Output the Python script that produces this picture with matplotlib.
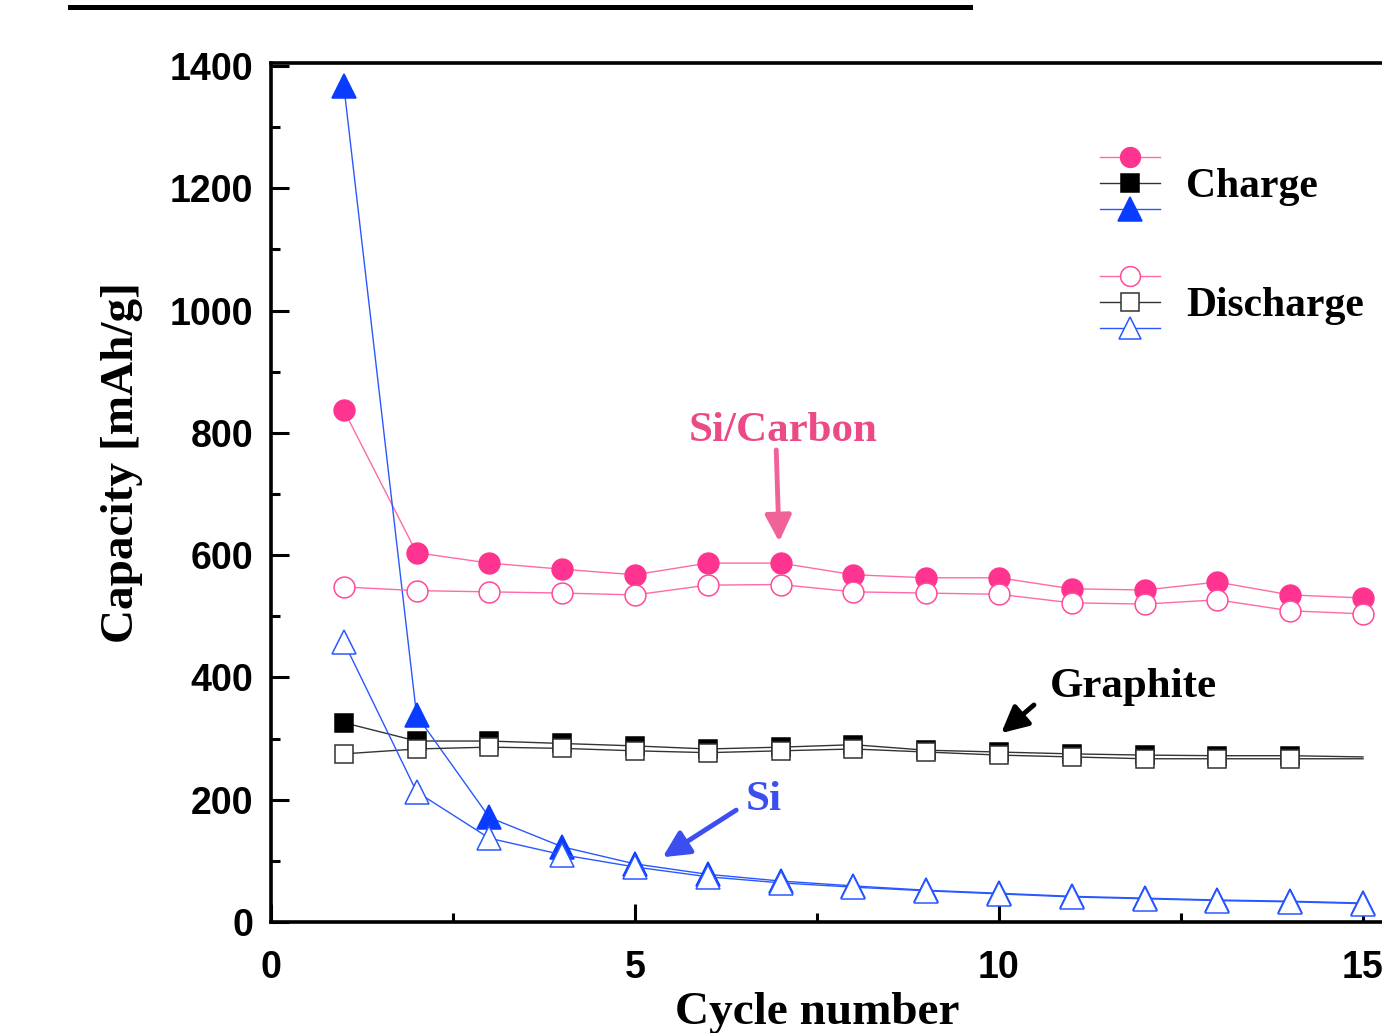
import matplotlib
matplotlib.use("Agg")
import matplotlib.pyplot as plt
from matplotlib.lines import Line2D
from matplotlib.legend_handler import HandlerBase
from matplotlib.ticker import MultipleLocator

# ---------------- data ----------------
cycles = list(range(1, 16))
sic_charge = [837, 604, 587, 577, 568, 587, 587, 568, 563, 563, 545, 543, 556, 535, 530]
sic_discharge = [548, 542, 540, 538, 535, 551, 552, 540, 538, 536, 522, 520, 527, 509, 504]
graphite_charge = [326, 296, 296, 292, 288, 283, 286, 290, 281, 278, 275, 273, 272, 272, 270]
graphite_discharge = [275, 283, 286, 284, 280, 277, 280, 283, 278, 273, 270, 267, 267, 267, 267]
si_charge = [1368, 338, 171, 123, 95, 78, 67, 59, 52, 47, 42, 39, 36, 34, 31]
si_discharge = [458, 213, 137, 110, 90, 74, 64, 57, 51, 46, 41, 38, 35, 33, 30]

xticks = [0, 5, 10, 15]
yticks = [0, 200, 400, 600, 800, 1000, 1200, 1400]

# ---------------- style ----------------
PINK_FILL = "#ff3390"
PINK_LINE = "#ff6aa8"
PINK_EDGE = "#ff4a9a"
BLUE_FILL = "#0a3cff"
BLUE_LINE = "#2a58ff"
BLUE_EDGE = "#2a58ff"
BLACK = "#000000"
GREY_LINE = "#333333"
PINK_TEXT = "#ec4a86"
BLUE_TEXT = "#3d4ef0"

serif = ["Liberation Serif", "DejaVu Serif"]
sans = ["Liberation Sans", "DejaVu Sans"]

fig = plt.figure(figsize=(13.82, 10.33), dpi=100)
W, H = 1382, 1033
ax_left, ax_bottom = 271 / W, 111 / H
ax = fig.add_axes([ax_left, ax_bottom, 1164.8 / W, 859 / H])
ax.set_xlim(0, 16)
ax.set_ylim(0, 1405)

lw = 1.0
mew = 1.1

# charge
h_sic_c, = ax.plot(cycles, sic_charge, color=PINK_LINE, lw=lw, marker="o", ms=15,
                   mfc=PINK_FILL, mec=PINK_FILL, mew=mew, zorder=3)
h_gr_c, = ax.plot(cycles, graphite_charge, color=GREY_LINE, lw=lw, marker="s", ms=13,
                  mfc=BLACK, mec=BLACK, mew=mew, markevery=list(range(14)), zorder=3)
h_si_c, = ax.plot(cycles, si_charge, color=BLUE_LINE, lw=lw, marker="^", ms=17.5,
                  mfc=BLUE_FILL, mec=BLUE_FILL, mew=mew, zorder=3)
# discharge
h_sic_d, = ax.plot(cycles, sic_discharge, color=PINK_LINE, lw=lw, marker="o", ms=15,
                   mfc="white", mec=PINK_EDGE, mew=mew, zorder=4)
h_gr_d, = ax.plot(cycles, graphite_discharge, color=GREY_LINE, lw=lw, marker="s", ms=13,
                  mfc="white", mec=GREY_LINE, mew=mew, markevery=list(range(14)), zorder=4)
h_si_d, = ax.plot(cycles, si_discharge, color=BLUE_LINE, lw=lw, marker="^", ms=17,
                  mfc="white", mec=BLUE_EDGE, mew=mew, zorder=4)

# ---------------- axes ----------------
for s in ["left", "bottom", "top", "right"]:
    ax.spines[s].set_linewidth(2.6)
ax.set_xticks(xticks)
ax.set_yticks(yticks)
ax.xaxis.set_minor_locator(MultipleLocator(2.5))
ax.yaxis.set_minor_locator(MultipleLocator(100))
ax.tick_params(which="both", direction="in", top=False, right=False, width=2.2)
ax.tick_params(which="major", length=13)
ax.tick_params(which="minor", length=6.5)
ax.tick_params(axis="y", which="major", pad=13)
ax.tick_params(axis="x", which="major", pad=20)
for lab in ax.get_xticklabels() + ax.get_yticklabels():
    lab.set_fontfamily(sans)
    lab.set_fontweight("bold")
    lab.set_fontsize(27)

ax.set_ylabel("Capacity [mAh/g]", fontfamily=serif, fontweight="bold", fontsize=34)
ax.yaxis.set_label_coords(-0.110, 0.535)
ax.set_xlabel("Cycle number", fontfamily=serif, fontweight="bold", fontsize=34)
ax.xaxis.set_label_coords(0.4688, -0.082)

# ---------------- annotations ----------------
arrow_kw = dict(arrowstyle="-|>", lw=3.5, mutation_scale=40, shrinkA=0, shrinkB=0)
ax.text(7.03, 803, "Si/Carbon", color=PINK_TEXT, fontfamily=serif, fontweight="bold",
        fontsize=31, ha="center", va="center")
ax.annotate("", xy=(6.98, 622), xytext=(6.94, 772),
            arrowprops=dict(color="#f06399", **arrow_kw))
ax.text(11.84, 385, "Graphite", color=BLACK, fontfamily=serif, fontweight="bold",
        fontsize=31, ha="center", va="center")
ax.annotate("", xy=(10.03, 309), xytext=(10.48, 355),
            arrowprops=dict(color=BLACK, **arrow_kw))
ax.text(6.77, 199, "Si", color=BLUE_TEXT, fontfamily=serif, fontweight="bold",
        fontsize=31, ha="center", va="center")
ax.annotate("", xy=(5.38, 106), xytext=(6.39, 183),
            arrowprops=dict(color=BLUE_TEXT, **arrow_kw))


# ---------------- legend ----------------
class StackHandler(HandlerBase):
    def create_artists(self, legend, orig_handle, xdescent, ydescent, width, height,
                       fontsize, trans):
        arts = []
        n = len(orig_handle)
        for i, h in enumerate(orig_handle):
            y = height - ydescent - i * height / (n - 1)
            ln = Line2D([-xdescent, width - xdescent], [y, y], color=h.get_color(),
                        lw=h.get_linewidth(), transform=trans)
            mk = Line2D([width / 2 - xdescent], [y], ls="none", marker=h.get_marker(),
                        ms=h.get_markersize() * 0.95, mfc=h.get_markerfacecolor(),
                        mec=h.get_markeredgecolor(), mew=h.get_markeredgewidth(),
                        transform=trans)
            arts += [ln, mk]
        return arts


leg = ax.legend([(h_sic_c, h_gr_c, h_si_c), (h_sic_d, h_gr_d, h_si_d)],
                ["Charge", "Discharge"],
                handler_map={tuple: StackHandler()},
                loc="upper left", bbox_to_anchor=(1100 / W, 1 - 157 / H),
                bbox_transform=fig.transFigure, frameon=False,
                borderpad=0, borderaxespad=0, handlelength=1.44, handleheight=1.55,
                handletextpad=0.62, labelspacing=1.6,
                prop={"family": serif, "weight": "bold", "size": 30})

# title underline remnant at the top
fig.add_artist(Line2D([70 / W, 970 / W], [1 - 7 / H, 1 - 7 / H], color=BLACK, lw=3.6))

fig.savefig("out.png", dpi=100)
